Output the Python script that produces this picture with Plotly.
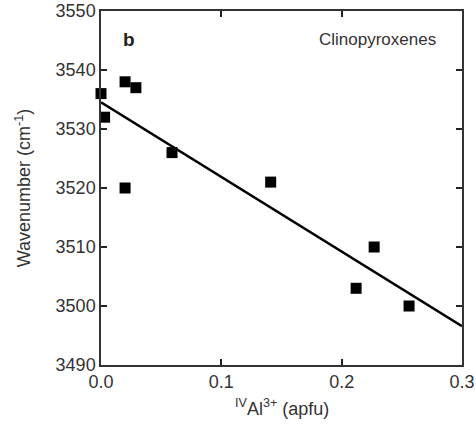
import numpy as np
import plotly.graph_objects as go

# Data
al_iv = [0.0, 0.003, 0.020, 0.029, 0.059, 0.020, 0.141, 0.227, 0.212, 0.256]
wavenumber = [3536, 3532, 3538, 3537, 3526, 3520, 3521, 3510, 3503, 3500]
x_ticks = [0.0, 0.1, 0.2, 0.3]
x_ticklabels = ["0.0", "0.1", "0.2", "0.3"]
y_ticks = [3490, 3500, 3510, 3520, 3530, 3540, 3550]

slope, intercept = np.polyfit(al_iv, wavenumber, 1)
fit_x = np.array([0.0, 0.3])
fit_y = intercept + slope * fit_x

font_fam = "Liberation Sans, Arial, sans-serif"
txt_col = "#333333"

fig = go.Figure()
fig.add_trace(go.Scatter(x=fit_x, y=fit_y, mode="lines",
                         line=dict(color="black", width=2.5), showlegend=False,
                         cliponaxis=True))
fig.add_trace(go.Scatter(x=al_iv, y=wavenumber, mode="markers",
                         marker=dict(symbol="square", size=11, color="black"),
                         showlegend=False, cliponaxis=False))

axis_common = dict(showgrid=False, zeroline=False, showline=True, linecolor="#333333",
                   linewidth=1.5, mirror="allticks", ticks="inside", ticklen=6,
                   tickwidth=1.5, tickcolor="#222222", automargin=False,
                   tickfont=dict(family=font_fam, size=18, color=txt_col))

fig.update_xaxes(range=[0, 0.3], tickvals=x_ticks, ticktext=x_ticklabels, **axis_common)
fig.update_yaxes(range=[3490, 3550], tickvals=y_ticks,
                 title=dict(text="Wavenumber (cm<sup>-1</sup>)",
                            font=dict(family=font_fam, size=18, color=txt_col), standoff=20),
                 **axis_common)

fig.add_annotation(x=0.5, y=-0.121, xref="paper", yref="paper",
                   text="<sup>IV</sup>Al<sup>3+</sup> (apfu)", showarrow=False,
                   xanchor="center", yanchor="middle",
                   font=dict(family=font_fam, size=18, color=txt_col))
fig.add_annotation(x=0.023, y=3545.2, xref="x", yref="y", text="<b>b</b>", showarrow=False,
                   xanchor="center", yanchor="middle",
                   font=dict(family=font_fam, size=19, color="#222222"))
fig.add_annotation(x=0.28, y=3545.2, xref="x", yref="y", text="Clinopyroxenes", showarrow=False,
                   xanchor="right", yanchor="middle",
                   font=dict(family=font_fam, size=17, color=txt_col))

fig.update_layout(width=476, height=424, margin=dict(l=101, r=14, t=11, b=59),
                  plot_bgcolor="white", paper_bgcolor="white")

fig.write_html("out.html")
